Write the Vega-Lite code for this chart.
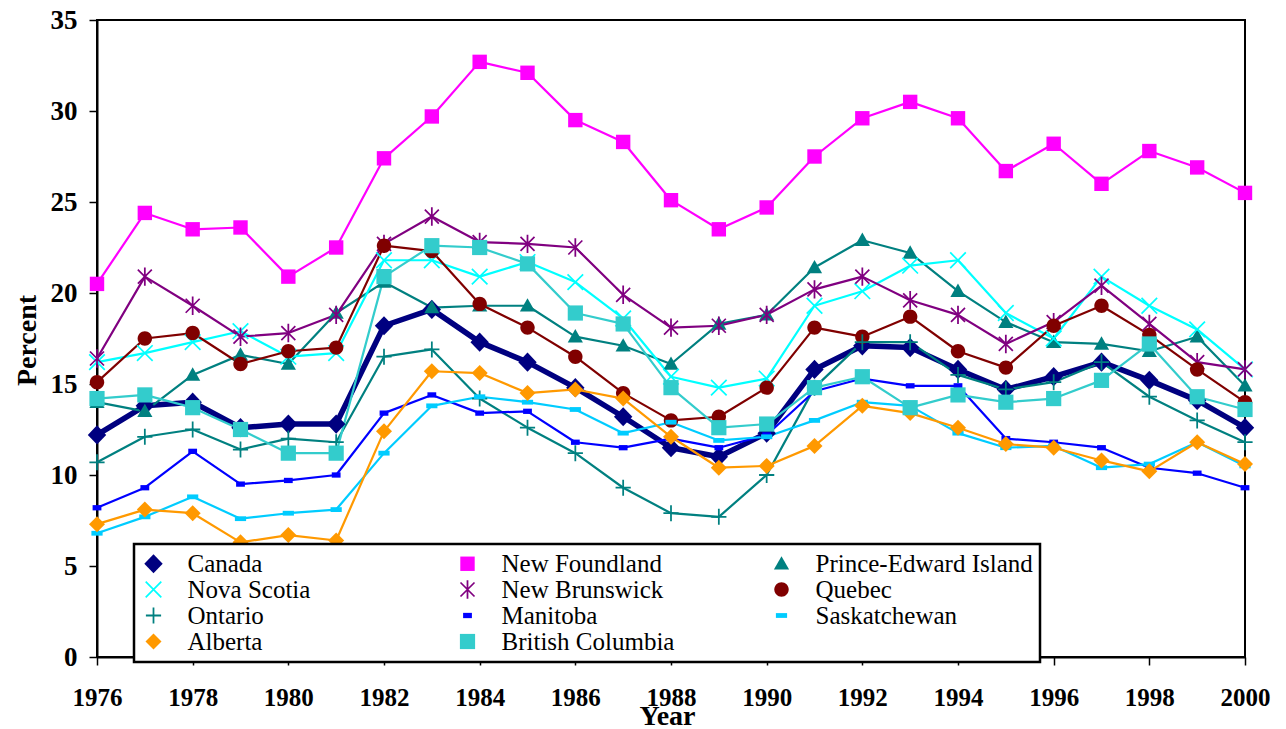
{
  "$schema": "https://vega.github.io/schema/vega-lite/v6.json",
  "width": 1148,
  "height": 637,
  "autosize": {"type": "none"},
  "padding": {"left": 97, "top": 20, "right": 41, "bottom": 72},
  "background": "white",
  "config": {
    "view": {"stroke": "black", "strokeWidth": 2},
    "axis": {
      "grid": false,
      "domainColor": "black",
      "domainWidth": 2,
      "tickColor": "black",
      "tickWidth": 1.5,
      "tickSize": 8,
      "labelFont": "Liberation Serif",
      "labelFontWeight": "bold",
      "labelFontSize": 25,
      "labelColor": "black",
      "titleFont": "Liberation Serif",
      "titleFontWeight": "bold",
      "titleFontSize": 28,
      "titleColor": "black"
    },
    "legend": {
      "orient": "none",
      "legendX": 37,
      "legendY": 524,
      "direction": "horizontal",
      "columns": 3,
      "gridAlign": "all",
      "columnPadding": 50,
      "rowPadding": -2.5,
      "padding": 7,
      "strokeColor": "black",
      "strokeWidth": 2.5,
      "fillColor": "white",
      "symbolSize": 256,
      "symbolStrokeWidth": 0,
      "symbolOffset": 0,
      "labelOffset": 21.5,
      "labelFont": "Liberation Serif",
      "labelFontSize": 25,
      "labelColor": "black",
      "labelLimit": 400
    }
  },
  "data": {"values": [
{"year":1976,"prov":"Canada","pct":12.2},{"year":1977,"prov":"Canada","pct":13.8},{"year":1978,"prov":"Canada","pct":14.0},{"year":1979,"prov":"Canada","pct":12.6},{"year":1980,"prov":"Canada","pct":12.8},{"year":1981,"prov":"Canada","pct":12.8},{"year":1982,"prov":"Canada","pct":18.2},{"year":1983,"prov":"Canada","pct":19.1},{"year":1984,"prov":"Canada","pct":17.3},{"year":1985,"prov":"Canada","pct":16.2},{"year":1986,"prov":"Canada","pct":14.8},{"year":1987,"prov":"Canada","pct":13.2},{"year":1988,"prov":"Canada","pct":11.5},{"year":1989,"prov":"Canada","pct":11.0},{"year":1990,"prov":"Canada","pct":12.3},{"year":1991,"prov":"Canada","pct":15.8},{"year":1992,"prov":"Canada","pct":17.1},{"year":1993,"prov":"Canada","pct":17.0},{"year":1994,"prov":"Canada","pct":15.8},{"year":1995,"prov":"Canada","pct":14.7},{"year":1996,"prov":"Canada","pct":15.4},{"year":1997,"prov":"Canada","pct":16.2},{"year":1998,"prov":"Canada","pct":15.2},{"year":1999,"prov":"Canada","pct":14.1},{"year":2000,"prov":"Canada","pct":12.6},
{"year":1976,"prov":"New Foundland","pct":20.5},{"year":1977,"prov":"New Foundland","pct":24.4},{"year":1978,"prov":"New Foundland","pct":23.5},{"year":1979,"prov":"New Foundland","pct":23.6},{"year":1980,"prov":"New Foundland","pct":20.9},{"year":1981,"prov":"New Foundland","pct":22.5},{"year":1982,"prov":"New Foundland","pct":27.4},{"year":1983,"prov":"New Foundland","pct":29.7},{"year":1984,"prov":"New Foundland","pct":32.7},{"year":1985,"prov":"New Foundland","pct":32.1},{"year":1986,"prov":"New Foundland","pct":29.5},{"year":1987,"prov":"New Foundland","pct":28.3},{"year":1988,"prov":"New Foundland","pct":25.1},{"year":1989,"prov":"New Foundland","pct":23.5},{"year":1990,"prov":"New Foundland","pct":24.7},{"year":1991,"prov":"New Foundland","pct":27.5},{"year":1992,"prov":"New Foundland","pct":29.6},{"year":1993,"prov":"New Foundland","pct":30.5},{"year":1994,"prov":"New Foundland","pct":29.6},{"year":1995,"prov":"New Foundland","pct":26.7},{"year":1996,"prov":"New Foundland","pct":28.2},{"year":1997,"prov":"New Foundland","pct":26.0},{"year":1998,"prov":"New Foundland","pct":27.8},{"year":1999,"prov":"New Foundland","pct":26.9},{"year":2000,"prov":"New Foundland","pct":25.5},
{"year":1976,"prov":"Prince-Edward Island","pct":14.0},{"year":1977,"prov":"Prince-Edward Island","pct":13.5},{"year":1978,"prov":"Prince-Edward Island","pct":15.5},{"year":1979,"prov":"Prince-Edward Island","pct":16.6},{"year":1980,"prov":"Prince-Edward Island","pct":16.1},{"year":1981,"prov":"Prince-Edward Island","pct":18.9},{"year":1982,"prov":"Prince-Edward Island","pct":20.6},{"year":1983,"prov":"Prince-Edward Island","pct":19.2},{"year":1984,"prov":"Prince-Edward Island","pct":19.3},{"year":1985,"prov":"Prince-Edward Island","pct":19.3},{"year":1986,"prov":"Prince-Edward Island","pct":17.6},{"year":1987,"prov":"Prince-Edward Island","pct":17.1},{"year":1988,"prov":"Prince-Edward Island","pct":16.1},{"year":1989,"prov":"Prince-Edward Island","pct":18.3},{"year":1990,"prov":"Prince-Edward Island","pct":18.8},{"year":1991,"prov":"Prince-Edward Island","pct":21.4},{"year":1992,"prov":"Prince-Edward Island","pct":22.9},{"year":1993,"prov":"Prince-Edward Island","pct":22.2},{"year":1994,"prov":"Prince-Edward Island","pct":20.1},{"year":1995,"prov":"Prince-Edward Island","pct":18.4},{"year":1996,"prov":"Prince-Edward Island","pct":17.3},{"year":1997,"prov":"Prince-Edward Island","pct":17.2},{"year":1998,"prov":"Prince-Edward Island","pct":16.8},{"year":1999,"prov":"Prince-Edward Island","pct":17.6},{"year":2000,"prov":"Prince-Edward Island","pct":14.9},
{"year":1976,"prov":"Nova Scotia","pct":16.2},{"year":1977,"prov":"Nova Scotia","pct":16.7},{"year":1978,"prov":"Nova Scotia","pct":17.3},{"year":1979,"prov":"Nova Scotia","pct":17.9},{"year":1980,"prov":"Nova Scotia","pct":16.5},{"year":1981,"prov":"Nova Scotia","pct":16.7},{"year":1982,"prov":"Nova Scotia","pct":21.8},{"year":1983,"prov":"Nova Scotia","pct":21.8},{"year":1984,"prov":"Nova Scotia","pct":20.9},{"year":1985,"prov":"Nova Scotia","pct":21.7},{"year":1986,"prov":"Nova Scotia","pct":20.6},{"year":1987,"prov":"Nova Scotia","pct":18.6},{"year":1988,"prov":"Nova Scotia","pct":15.4},{"year":1989,"prov":"Nova Scotia","pct":14.8},{"year":1990,"prov":"Nova Scotia","pct":15.3},{"year":1991,"prov":"Nova Scotia","pct":19.3},{"year":1992,"prov":"Nova Scotia","pct":20.1},{"year":1993,"prov":"Nova Scotia","pct":21.5},{"year":1994,"prov":"Nova Scotia","pct":21.8},{"year":1995,"prov":"Nova Scotia","pct":18.9},{"year":1996,"prov":"Nova Scotia","pct":17.5},{"year":1997,"prov":"Nova Scotia","pct":20.9},{"year":1998,"prov":"Nova Scotia","pct":19.3},{"year":1999,"prov":"Nova Scotia","pct":18.0},{"year":2000,"prov":"Nova Scotia","pct":15.8},
{"year":1976,"prov":"New Brunswick","pct":16.4},{"year":1977,"prov":"New Brunswick","pct":20.9},{"year":1978,"prov":"New Brunswick","pct":19.3},{"year":1979,"prov":"New Brunswick","pct":17.6},{"year":1980,"prov":"New Brunswick","pct":17.8},{"year":1981,"prov":"New Brunswick","pct":18.8},{"year":1982,"prov":"New Brunswick","pct":22.7},{"year":1983,"prov":"New Brunswick","pct":24.2},{"year":1984,"prov":"New Brunswick","pct":22.8},{"year":1985,"prov":"New Brunswick","pct":22.7},{"year":1986,"prov":"New Brunswick","pct":22.5},{"year":1987,"prov":"New Brunswick","pct":19.9},{"year":1988,"prov":"New Brunswick","pct":18.1},{"year":1989,"prov":"New Brunswick","pct":18.2},{"year":1990,"prov":"New Brunswick","pct":18.8},{"year":1991,"prov":"New Brunswick","pct":20.2},{"year":1992,"prov":"New Brunswick","pct":20.9},{"year":1993,"prov":"New Brunswick","pct":19.6},{"year":1994,"prov":"New Brunswick","pct":18.8},{"year":1995,"prov":"New Brunswick","pct":17.2},{"year":1996,"prov":"New Brunswick","pct":18.4},{"year":1997,"prov":"New Brunswick","pct":20.4},{"year":1998,"prov":"New Brunswick","pct":18.3},{"year":1999,"prov":"New Brunswick","pct":16.2},{"year":2000,"prov":"New Brunswick","pct":15.8},
{"year":1976,"prov":"Quebec","pct":15.1},{"year":1977,"prov":"Quebec","pct":17.5},{"year":1978,"prov":"Quebec","pct":17.8},{"year":1979,"prov":"Quebec","pct":16.1},{"year":1980,"prov":"Quebec","pct":16.8},{"year":1981,"prov":"Quebec","pct":17.0},{"year":1982,"prov":"Quebec","pct":22.6},{"year":1983,"prov":"Quebec","pct":22.3},{"year":1984,"prov":"Quebec","pct":19.4},{"year":1985,"prov":"Quebec","pct":18.1},{"year":1986,"prov":"Quebec","pct":16.5},{"year":1987,"prov":"Quebec","pct":14.5},{"year":1988,"prov":"Quebec","pct":13.0},{"year":1989,"prov":"Quebec","pct":13.2},{"year":1990,"prov":"Quebec","pct":14.8},{"year":1991,"prov":"Quebec","pct":18.1},{"year":1992,"prov":"Quebec","pct":17.6},{"year":1993,"prov":"Quebec","pct":18.7},{"year":1994,"prov":"Quebec","pct":16.8},{"year":1995,"prov":"Quebec","pct":15.9},{"year":1996,"prov":"Quebec","pct":18.2},{"year":1997,"prov":"Quebec","pct":19.3},{"year":1998,"prov":"Quebec","pct":17.7},{"year":1999,"prov":"Quebec","pct":15.8},{"year":2000,"prov":"Quebec","pct":14.0},
{"year":1976,"prov":"Ontario","pct":10.7},{"year":1977,"prov":"Ontario","pct":12.1},{"year":1978,"prov":"Ontario","pct":12.5},{"year":1979,"prov":"Ontario","pct":11.4},{"year":1980,"prov":"Ontario","pct":12.0},{"year":1981,"prov":"Ontario","pct":11.8},{"year":1982,"prov":"Ontario","pct":16.5},{"year":1983,"prov":"Ontario","pct":16.9},{"year":1984,"prov":"Ontario","pct":14.2},{"year":1985,"prov":"Ontario","pct":12.6},{"year":1986,"prov":"Ontario","pct":11.2},{"year":1987,"prov":"Ontario","pct":9.3},{"year":1988,"prov":"Ontario","pct":7.9},{"year":1989,"prov":"Ontario","pct":7.7},{"year":1990,"prov":"Ontario","pct":10.0},{"year":1991,"prov":"Ontario","pct":14.8},{"year":1992,"prov":"Ontario","pct":17.3},{"year":1993,"prov":"Ontario","pct":17.3},{"year":1994,"prov":"Ontario","pct":15.5},{"year":1995,"prov":"Ontario","pct":14.7},{"year":1996,"prov":"Ontario","pct":15.1},{"year":1997,"prov":"Ontario","pct":16.2},{"year":1998,"prov":"Ontario","pct":14.3},{"year":1999,"prov":"Ontario","pct":13.0},{"year":2000,"prov":"Ontario","pct":11.8},
{"year":1976,"prov":"Manitoba","pct":8.2},{"year":1977,"prov":"Manitoba","pct":9.3},{"year":1978,"prov":"Manitoba","pct":11.3},{"year":1979,"prov":"Manitoba","pct":9.5},{"year":1980,"prov":"Manitoba","pct":9.7},{"year":1981,"prov":"Manitoba","pct":10.0},{"year":1982,"prov":"Manitoba","pct":13.4},{"year":1983,"prov":"Manitoba","pct":14.4},{"year":1984,"prov":"Manitoba","pct":13.4},{"year":1985,"prov":"Manitoba","pct":13.5},{"year":1986,"prov":"Manitoba","pct":11.8},{"year":1987,"prov":"Manitoba","pct":11.5},{"year":1988,"prov":"Manitoba","pct":12.0},{"year":1989,"prov":"Manitoba","pct":11.5},{"year":1990,"prov":"Manitoba","pct":12.2},{"year":1991,"prov":"Manitoba","pct":14.6},{"year":1992,"prov":"Manitoba","pct":15.3},{"year":1993,"prov":"Manitoba","pct":14.9},{"year":1994,"prov":"Manitoba","pct":14.9},{"year":1995,"prov":"Manitoba","pct":12.0},{"year":1996,"prov":"Manitoba","pct":11.8},{"year":1997,"prov":"Manitoba","pct":11.5},{"year":1998,"prov":"Manitoba","pct":10.4},{"year":1999,"prov":"Manitoba","pct":10.1},{"year":2000,"prov":"Manitoba","pct":9.3},
{"year":1976,"prov":"Saskatchewan","pct":6.8},{"year":1977,"prov":"Saskatchewan","pct":7.7},{"year":1978,"prov":"Saskatchewan","pct":8.8},{"year":1979,"prov":"Saskatchewan","pct":7.6},{"year":1980,"prov":"Saskatchewan","pct":7.9},{"year":1981,"prov":"Saskatchewan","pct":8.1},{"year":1982,"prov":"Saskatchewan","pct":11.2},{"year":1983,"prov":"Saskatchewan","pct":13.8},{"year":1984,"prov":"Saskatchewan","pct":14.3},{"year":1985,"prov":"Saskatchewan","pct":14.0},{"year":1986,"prov":"Saskatchewan","pct":13.6},{"year":1987,"prov":"Saskatchewan","pct":12.3},{"year":1988,"prov":"Saskatchewan","pct":12.9},{"year":1989,"prov":"Saskatchewan","pct":11.9},{"year":1990,"prov":"Saskatchewan","pct":12.1},{"year":1991,"prov":"Saskatchewan","pct":13.0},{"year":1992,"prov":"Saskatchewan","pct":14.0},{"year":1993,"prov":"Saskatchewan","pct":13.8},{"year":1994,"prov":"Saskatchewan","pct":12.3},{"year":1995,"prov":"Saskatchewan","pct":11.5},{"year":1996,"prov":"Saskatchewan","pct":11.6},{"year":1997,"prov":"Saskatchewan","pct":10.4},{"year":1998,"prov":"Saskatchewan","pct":10.6},{"year":1999,"prov":"Saskatchewan","pct":11.8},{"year":2000,"prov":"Saskatchewan","pct":10.5},
{"year":1976,"prov":"Alberta","pct":7.3},{"year":1977,"prov":"Alberta","pct":8.1},{"year":1978,"prov":"Alberta","pct":7.9},{"year":1979,"prov":"Alberta","pct":6.3},{"year":1980,"prov":"Alberta","pct":6.7},{"year":1981,"prov":"Alberta","pct":6.4},{"year":1982,"prov":"Alberta","pct":12.4},{"year":1983,"prov":"Alberta","pct":15.7},{"year":1984,"prov":"Alberta","pct":15.6},{"year":1985,"prov":"Alberta","pct":14.5},{"year":1986,"prov":"Alberta","pct":14.7},{"year":1987,"prov":"Alberta","pct":14.2},{"year":1988,"prov":"Alberta","pct":12.1},{"year":1989,"prov":"Alberta","pct":10.4},{"year":1990,"prov":"Alberta","pct":10.5},{"year":1991,"prov":"Alberta","pct":11.6},{"year":1992,"prov":"Alberta","pct":13.8},{"year":1993,"prov":"Alberta","pct":13.4},{"year":1994,"prov":"Alberta","pct":12.6},{"year":1995,"prov":"Alberta","pct":11.7},{"year":1996,"prov":"Alberta","pct":11.5},{"year":1997,"prov":"Alberta","pct":10.8},{"year":1998,"prov":"Alberta","pct":10.2},{"year":1999,"prov":"Alberta","pct":11.8},{"year":2000,"prov":"Alberta","pct":10.6},
{"year":1976,"prov":"British Columbia","pct":14.2},{"year":1977,"prov":"British Columbia","pct":14.4},{"year":1978,"prov":"British Columbia","pct":13.7},{"year":1979,"prov":"British Columbia","pct":12.5},{"year":1980,"prov":"British Columbia","pct":11.2},{"year":1981,"prov":"British Columbia","pct":11.2},{"year":1982,"prov":"British Columbia","pct":20.9},{"year":1983,"prov":"British Columbia","pct":22.6},{"year":1984,"prov":"British Columbia","pct":22.5},{"year":1985,"prov":"British Columbia","pct":21.6},{"year":1986,"prov":"British Columbia","pct":18.9},{"year":1987,"prov":"British Columbia","pct":18.3},{"year":1988,"prov":"British Columbia","pct":14.8},{"year":1989,"prov":"British Columbia","pct":12.6},{"year":1990,"prov":"British Columbia","pct":12.8},{"year":1991,"prov":"British Columbia","pct":14.8},{"year":1992,"prov":"British Columbia","pct":15.4},{"year":1993,"prov":"British Columbia","pct":13.7},{"year":1994,"prov":"British Columbia","pct":14.4},{"year":1995,"prov":"British Columbia","pct":14.0},{"year":1996,"prov":"British Columbia","pct":14.2},{"year":1997,"prov":"British Columbia","pct":15.2},{"year":1998,"prov":"British Columbia","pct":17.2},{"year":1999,"prov":"British Columbia","pct":14.3},{"year":2000,"prov":"British Columbia","pct":13.6}
  ]},
  "encoding": {
    "x": {
      "field": "year", "type": "quantitative",
      "scale": {"domain": [1976, 2000], "nice": false, "zero": false},
      "axis": {
        "values": [1976,1978,1980,1982,1984,1986,1988,1990,1992,1994,1996,1998,2000],
        "format": "d",
        "labelPadding": 20,
        "labelFlush": false,
        "title": "Year",
        "titleX": 570,
        "titleY": 67,
        "titleBaseline": "alphabetic",
        "titleAlign": "center"
      }
    },
    "y": {
      "field": "pct", "type": "quantitative",
      "scale": {"domain": [0, 35], "nice": false},
      "axis": {
        "values": [0,5,10,15,20,25,30,35],
        "labelPadding": 12,
        "labelFontSize": 27,
        "title": "Percent",
        "titleAngle": -90,
        "titleX": -62,
        "titleY": 320,
        "titleAlign": "center",
        "titleBaseline": "alphabetic"
      }
    },
    "color": {
      "field": "prov", "type": "nominal", "title": null,
      "scale": {
        "domain": ["Canada","New Foundland","Prince-Edward Island","Nova Scotia","New Brunswick","Quebec","Ontario","Manitoba","Saskatchewan","Alberta","British Columbia"],
        "range": ["#000080","#FF00FF","#008080","#00FFFF","#800080","#800000","#008080","#0000FF","#00CCFF","#FF9900","#33CCCC"]
      },
      "legend": {
        "labelFont": "Liberation Serif",
        "labelFontSize": 25,
        "encode": {
          "labels": {"update": {"font": {"value": "Liberation Serif"}}},
          "symbols": {
            "update": {
              "shape": {"signal": "{'Canada':'M-7.1,0L-7.1,0ZM-3.6,-0.32L3.6,-0.32L3.6,0.32L-3.6,0.32ZM-1,0L0,-1.05L1,0L0,1.05Z','New Foundland':'M-7.1,0L-7.1,0ZM-3.6,-0.15L3.6,-0.15L3.6,0.15L-3.6,0.15ZM-0.85,-0.85L0.85,-0.85L0.85,0.85L-0.85,0.85Z','Prince-Edward Island':'M-7.1,0L-7.1,0ZM-3.6,-0.15L3.6,-0.15L3.6,0.15L-3.6,0.15ZM0,-0.9L0.9,0.7L-0.9,0.7Z','Nova Scotia':'M-7.1,0L-7.1,0ZM-3.6,-0.15L3.6,-0.15L3.6,0.15L-3.6,0.15ZM-1,-0.85L-0.85,-1L1,0.85L0.85,1ZM-1,0.85L0.85,-1L1,-0.85L-0.85,1Z','New Brunswick':'M-7.1,0L-7.1,0ZM-3.6,-0.15L3.6,-0.15L3.6,0.15L-3.6,0.15ZM-0.9,-0.75L-0.75,-0.9L0.9,0.75L0.75,0.9ZM-0.9,0.75L0.75,-0.9L0.9,-0.75L-0.75,0.9ZM-0.11,-1.1L0.11,-1.1L0.11,1.1L-0.11,1.1Z','Quebec':'M-7.1,0L-7.1,0ZM-3.6,-0.15L3.6,-0.15L3.6,0.15L-3.6,0.15ZM-0.85,0A0.85,0.85,0,1,1,0.85,0A0.85,0.85,0,1,1,-0.85,0Z','Ontario':'M-7.1,0L-7.1,0ZM-3.6,-0.15L3.6,-0.15L3.6,0.15L-3.6,0.15ZM-0.11,-1L0.11,-1L0.11,1L-0.11,1Z','Manitoba':'M-7.1,0L-7.1,0ZM-3.6,-0.15L3.6,-0.15L3.6,0.15L-3.6,0.15ZM-0.55,-0.33L0.55,-0.33L0.55,0.33L-0.55,0.33Z','Saskatchewan':'M-7.1,0L-7.1,0ZM-3.6,-0.15L3.6,-0.15L3.6,0.15L-3.6,0.15ZM-0.7,-0.3L0.7,-0.3L0.7,0.3L-0.7,0.3Z','Alberta':'M-7.1,0L-7.1,0ZM-3.6,-0.15L3.6,-0.15L3.6,0.15L-3.6,0.15ZM-0.95,0L0,-0.95L0.95,0L0,0.95Z','British Columbia':'M-7.1,0L-7.1,0ZM-3.6,-0.15L3.6,-0.15L3.6,0.15L-3.6,0.15ZM-0.95,-0.95L0.95,-0.95L0.95,0.95L-0.95,0.95Z'}[datum.value]"}
            }
          }
        }
      }
    }
  },
  "layer": [
    {
      "mark": {"type": "line", "strokeJoin": "round"},
      "encoding": {
        "strokeWidth": {"condition": {"test": "datum.prov === 'Canada'", "value": 5.5}, "value": 2.2}
      }
    },
    {
      "mark": {"type": "point", "filled": true, "opacity": 1, "size": 256},
      "encoding": {
        "shape": {
          "field": "prov", "type": "nominal", "title": null,
          "scale": {
            "domain": ["Canada","New Foundland","Prince-Edward Island","Nova Scotia","New Brunswick","Quebec","Ontario","Manitoba","Saskatchewan","Alberta","British Columbia"],
            "range": [
              "M-1.15,0L0,-1.2L1.15,0L0,1.2Z",
              "M-0.9,-0.9L0.9,-0.9L0.9,0.9L-0.9,0.9Z",
              "M0,-0.95L0.95,0.72L-0.95,0.72Z",
              "M-1.05,-0.9L-0.9,-1.05L1.05,0.9L0.9,1.05ZM-1.05,0.9L0.9,-1.05L1.05,-0.9L-0.9,1.05Z",
              "M-0.95,-0.8L-0.8,-0.95L0.95,0.8L0.8,0.95ZM-0.95,0.8L0.8,-0.95L0.95,-0.8L-0.8,0.95ZM-0.11,-1.15L0.11,-1.15L0.11,1.15L-0.11,1.15Z",
              "M-0.9,0A0.9,0.9,0,1,1,0.9,0A0.9,0.9,0,1,1,-0.9,0Z",
              "M-0.95,-0.11L0.95,-0.11L0.95,0.11L-0.95,0.11ZM-0.11,-1L0.11,-1L0.11,1L-0.11,1Z",
              "M-0.55,-0.33L0.55,-0.33L0.55,0.33L-0.55,0.33Z",
              "M-0.7,-0.3L0.7,-0.3L0.7,0.3L-0.7,0.3Z",
              "M-1,0L0,-1L1,0L0,1Z",
              "M-0.95,-0.95L0.95,-0.95L0.95,0.95L-0.95,0.95Z"
            ]
          }
        }
      }
    }
  ]
}
